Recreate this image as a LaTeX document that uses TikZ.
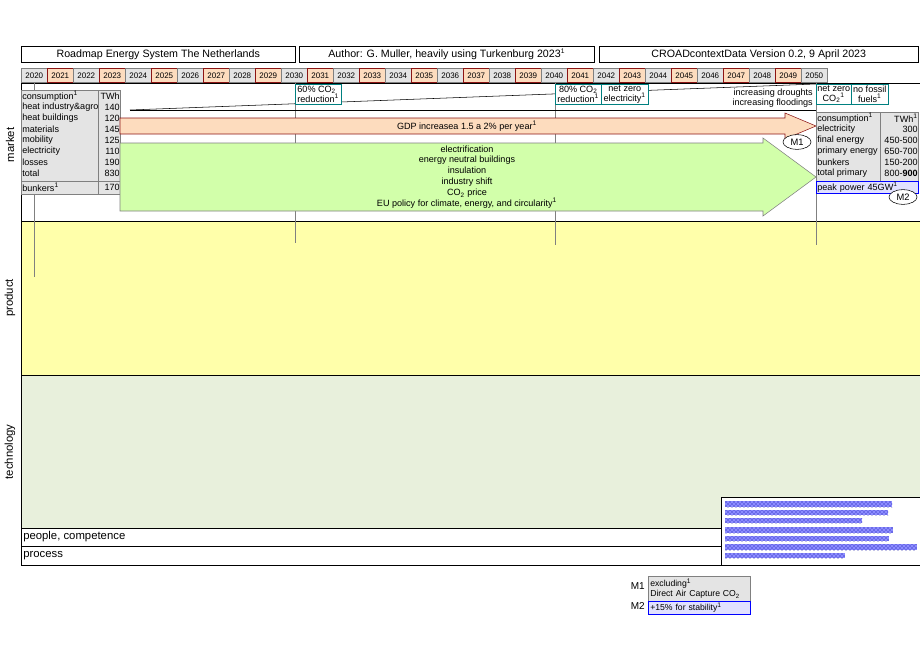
\documentclass[tikz,border=0pt]{standalone}
\usepackage{fontspec}
\setmainfont{Liberation Sans}
\usetikzlibrary{patterns,shapes.geometric}
\definecolor{peach}{RGB}{253,220,190}
\definecolor{dred}{RGB}{140,20,20}
\definecolor{lgray}{RGB}{228,228,228}
\definecolor{teal2}{RGB}{0,128,128}
\definecolor{pgreen}{RGB}{210,255,170}
\definecolor{pyellow}{RGB}{255,255,170}
\definecolor{tgreen}{RGB}{232,240,220}
\definecolor{lblue}{RGB}{225,225,255}
\newcommand{\sone}{\textsuperscript{\tiny 1}}
\begin{document}
\begin{tikzpicture}[x=0.75pt,y=-0.75pt,
  titlebox/.style={draw,inner sep=0,font=\fontsize{8}{9}\selectfont},
  txt/.style={inner sep=0,font=\fontsize{6.8}{8}\selectfont},
  mile/.style={draw=teal2,fill=white,inner sep=0,align=center,font=\fontsize{6.8}{7.5}\selectfont},
  mlabel/.style={draw,ellipse,inner sep=0,minimum width=21pt,minimum height=11pt,fill=white,font=\fontsize{7}{8}\selectfont},
  side/.style={rotate=90,font=\fontsize{8.5}{10}\selectfont},
  bar/.style={pattern=crosshatch dots,pattern color=blue!60!black,draw=none}]
\useasboundingbox (0,0) rectangle (920,660);
% titles
\node[titlebox,minimum width=274*0.75pt,minimum height=16*0.75pt,anchor=north west] (t1) at (21,46) {Roadmap Energy System The Netherlands};
\node[titlebox,minimum width=295*0.75pt,minimum height=16*0.75pt,anchor=north west] (t2) at (299,46) {Author: G. Muller, heavily using Turkenburg 2023\sone};
\node[titlebox,minimum width=319*0.75pt,minimum height=16*0.75pt,anchor=north west] (t3) at (599,46) {CROADcontextData Version 0.2, 9 April 2023};
% years
\foreach \i in {0,...,30}{
  \pgfmathtruncatemacro\yr{2020+\i}
  \pgfmathtruncatemacro\od{mod(\i,2)}
  \ifnum\od=1
    \node[draw=dred,fill=peach,inner sep=0,minimum width=26*0.75pt,minimum height=14*0.75pt,anchor=north west,font=\fontsize{6}{7}\selectfont] (y\yr) at (21+26*\i,68) {\yr};
  \else
    \node[draw=gray,fill=lgray,inner sep=0,minimum width=26*0.75pt,minimum height=14*0.75pt,anchor=north west,font=\fontsize{6}{7}\selectfont] (y\yr) at (21+26*\i,68) {\yr};
  \fi
}
% bands
\fill[pyellow] (21,221) rectangle (920,375);
\fill[tgreen] (21,375) rectangle (920,528);
\draw (21,83) -- (920,83);
\draw (21,83) -- (21,565) -- (920,565);
\draw (21,221) -- (920,221);
\draw (21,375) -- (920,375);
\draw (21,528) -- (721,528);
\draw (21,546) -- (721,546);
\node[anchor=west,inner sep=0,font=\fontsize{8.5}{10}\selectfont] (pc) at (23,537) {people, competence};
\node[anchor=west,inner sep=0,font=\fontsize{8.5}{10}\selectfont] (pr) at (23,556) {process};
\node[side] (lm) at (10,145) {market};
\node[side] (lp) at (10,298) {product};
\node[side] (lt) at (10,452) {technology};
% vertical lines
\draw[gray] (34,83) -- (34,277);
\draw[gray] (295,83) -- (295,243);
\draw[gray] (555,83) -- (555,245);
\draw[gray] (816,83) -- (816,245);
% trend lines
\coordinate (ls) at (130,110);
\coordinate (le1) at (816,84);
\coordinate (le2) at (816,110);
\draw (ls) -- (le1);
\draw (ls) -- (le2);
% left table
\draw[gray,fill=lgray] (21,90) rectangle (120,194);
\draw[gray] (98,90) -- (98,194);
\draw[gray] (21,181) -- (120,181);
\foreach \n/\v [count=\k] in {consumption\sone/TWh,heat industry\&agro/140,heat buildings/120,materials/145,mobility/125,electricity/110,losses/190,total/830}{
  \node[txt,anchor=west] (lt\k) at (22,85+11*\k) {\n};
  \node[txt,anchor=east] (lv\k) at (120,85+11*\k) {\v};
}
\node[txt,anchor=west] (ltb) at (22,187) {bunkers\sone};
\node[txt,anchor=east] (lvb) at (120,187) {170};
% arrows
\draw[dred,fill=peach] (120,118) -- (785,118) -- (785,113) -- (816,126) -- (785,139) -- (785,134) -- (120,134) -- cycle;
\node[txt] (gdp) at (467,126) {GDP increasea 1.5 a 2\% per year\sone};
\draw[gray,fill=pgreen] (120,143) -- (763,143) -- (763,138) -- (816,177) -- (763,216) -- (763,211) -- (120,211) -- cycle;
\node[txt,align=center,font=\fontsize{6.8}{8.2}\selectfont] (pol) at (467,177) {electrification\\energy neutral buildings\\insulation\\industry shift\\CO\textsubscript{2} price\\EU policy for climate, energy, and circularity\sone};
% milestones
\node[mile,minimum width=46*0.75pt,minimum height=20*0.75pt,anchor=north west,align=left] (m60) at (295,84) {60\% CO\textsubscript{2}\\reduction\sone};
\node[mile,minimum width=46*0.75pt,minimum height=20*0.75pt,anchor=north west] (m80) at (555,84) {80\% CO\textsubscript{2}\\reduction\sone};
\node[mile,minimum width=47*0.75pt,minimum height=20*0.75pt,anchor=north west] (mnze) at (601,84) {net zero\\electricity\sone};
\node[mile,minimum width=35*0.75pt,minimum height=20*0.75pt,anchor=north west] (mnzc) at (816,84) {net zero\\CO\textsubscript{2}\sone};
\node[mile,minimum width=37*0.75pt,minimum height=20*0.75pt,anchor=north west] (mnf) at (851,84) {no fossil\\fuels\sone};
\node[txt,anchor=north east,align=right,font=\fontsize{6.8}{7.5}\selectfont] (dr) at (813,89) {increasing droughts\\increasing floodings};
% right table
\draw[gray,fill=lgray] (816,112) rectangle (918,181);
\draw[gray] (880,112) -- (880,181);
\foreach \n/\v [count=\k] in {consumption\sone/TWh\sone,electricity/300,final energy/450-500,primary energy/650-700,bunkers/150-200,total primary/800-\textbf{900}}{
  \node[txt,anchor=west] (rt\k) at (817,107+11*\k) {\n};
  \node[txt,anchor=east] (rv\k) at (918,107+11*\k) {\v};
}
\node[draw=blue,fill=lblue,inner sep=0,minimum width=102*0.75pt,minimum height=12*0.75pt,anchor=north west,font=\fontsize{6.8}{7.5}\selectfont,text width=100*0.75pt] (pk) at (816,181) {peak power 45GW\sone};
\node[mlabel] (M1) at (797,142) {M1};
\node[mlabel] (M2) at (903,197) {M2};
% hatched box
\draw[fill=white] (721,497) rectangle (920,565);
\foreach \a/\b/\c in {501/507/892,510/515/888,518/523/862,527/533/893,536/541/889,544/550/917,553/558/845}{
  \fill[blue!45!white] (725,\a) rectangle (\c,\b);
  \fill[bar] (725,\a) rectangle (\c,\b);
}
% legend
\node[anchor=east,inner sep=0,font=\fontsize{7.5}{9}\selectfont] (l1) at (645,586) {M1};
\node[draw=gray,fill=lgray,inner sep=1pt,anchor=north west,minimum width=102*0.75pt,minimum height=25*0.75pt,align=left,font=\fontsize{6.5}{7.5}\selectfont,text width=98*0.75pt] (lb1) at (648,576) {excluding\sone\\Direct Air Capture CO\textsubscript{2}};
\node[anchor=east,inner sep=0,font=\fontsize{7.5}{9}\selectfont] (l2) at (645,606) {M2};
\node[draw=blue,fill=lblue,inner sep=1pt,anchor=north west,minimum width=102*0.75pt,minimum height=13*0.75pt,font=\fontsize{6.5}{7.5}\selectfont,text width=98*0.75pt] (lb2) at (648,601) {+15\% for stability\sone};
\end{tikzpicture}
\end{document}
